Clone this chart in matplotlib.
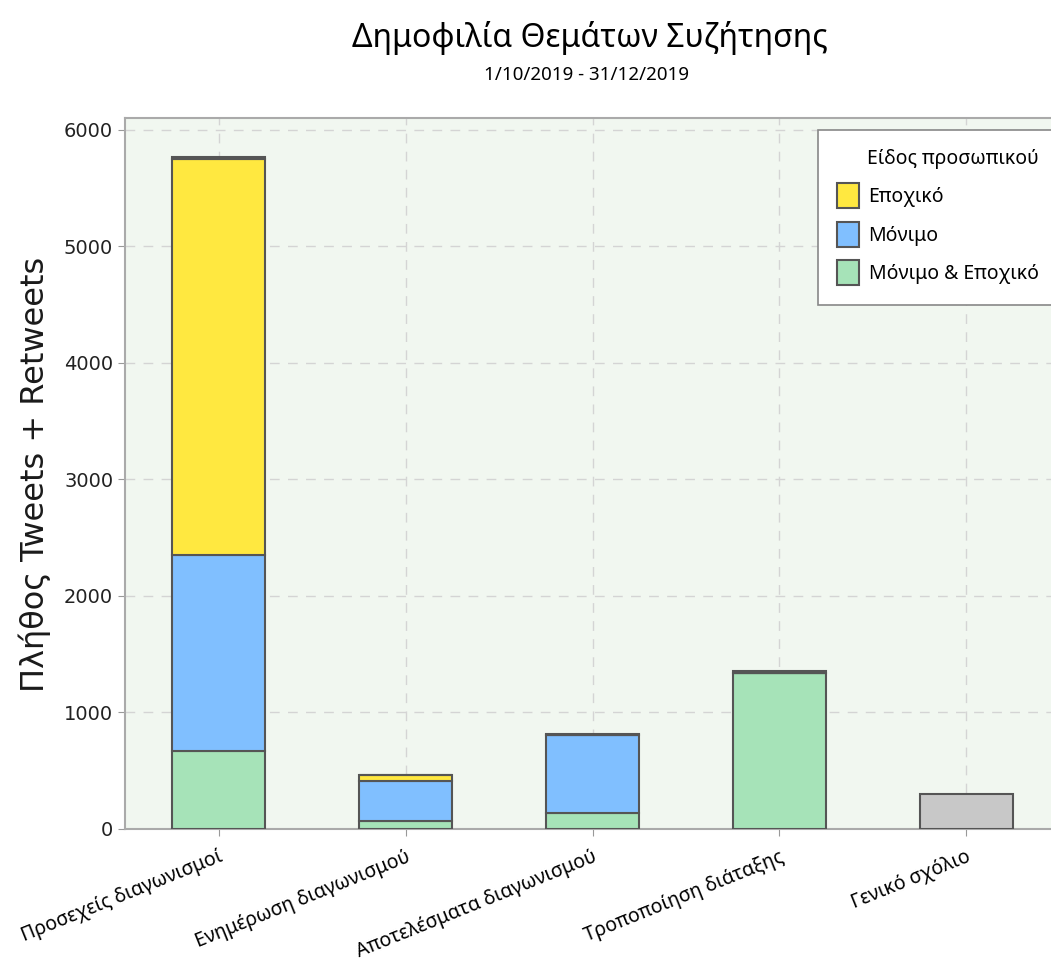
import matplotlib
matplotlib.use("Agg")
import matplotlib.pyplot as plt
import numpy as np

# data
categories = ["Προσεχείς διαγωνισμοί", "Ενημέρωση διαγωνισμού",
              "Αποτελέσματα διαγωνισμού", "Τροποποίηση διάταξης", "Γενικό σχόλιο"]
permanent_seasonal = [670, 70, 135, 1340, 0]
permanent = [1680, 345, 670, 0, 0]
seasonal = [3400, 50, 0, 0, 0]
other = [15, 0, 10, 15, 300]

series_labels = ["Εποχικό", "Μόνιμο", "Μόνιμο & Εποχικό"]
title = "Δημοφιλία Θεμάτων Συζήτησης"
subtitle = "1/10/2019 - 31/12/2019"
ylabel = "Πλήθος Tweets + Retweets"

c_green = "#a6e3b8"
c_blue = "#80bfff"
c_yellow = "#ffe840"
c_gray = "#c8c8c8"
edge = "#555555"

fig = plt.figure(figsize=(10.51, 9.65), dpi=100)
ax = fig.add_axes([125 / 1051, 1 - 829 / 965, (1060 - 125) / 1051, (829 - 118) / 965])
ax.set_facecolor("#f1f7f0")

x = np.arange(len(categories))
w = 0.5
b1 = np.array(permanent_seasonal)
b2 = b1 + np.array(permanent)
b3 = b2 + np.array(seasonal)

h_green = ax.bar(x, permanent_seasonal, w, color=c_green, edgecolor=edge, linewidth=1.5, zorder=3)
h_blue = ax.bar(x, permanent, w, bottom=b1, color=c_blue, edgecolor=edge, linewidth=1.5, zorder=3)
h_yellow = ax.bar(x, seasonal, w, bottom=b2, color=c_yellow, edgecolor=edge, linewidth=1.5, zorder=3)
ax.bar(x, other, w, bottom=b3, color=c_gray, edgecolor=edge, linewidth=1.5, zorder=3)

ax.set_xlim(-0.5, 4.5)
ax.set_ylim(0, 6100)
ax.set_yticks([0, 1000, 2000, 3000, 4000, 5000, 6000])
ax.set_xticks(x)
ax.set_xticklabels(categories, rotation=22, ha="right", rotation_mode="anchor",
                   fontsize=14, family="Noto Sans")
ax.tick_params(axis="y", labelsize=14, colors="#222222", length=5, color="#999999")
ax.tick_params(axis="x", length=5, color="#999999", pad=8)

ax.grid(True, linestyle=(0, (7, 6)), color="#d4d4d4", linewidth=1, zorder=0)
for s in ax.spines.values():
    s.set_color("#aaaaaa")
    s.set_linewidth(1.5)

fig.text(35 / 1051, 1 - 474 / 965, ylabel, rotation=90, ha="center", va="center",
         fontsize=23, color="#1a1a1a")

fig.text(590 / 1051, 1 - 38 / 965, title, ha="center", va="center",
         fontsize=23, family="Noto Sans")
fig.text(587 / 1051, 1 - 75 / 965, subtitle, ha="center", va="center",
         fontsize=13.5, family="Noto Sans")

leg = fig.legend([h_yellow, h_blue, h_green], series_labels, title="Είδος προσωπικού",
                 loc="upper left", bbox_to_anchor=(818 / 1051, 1 - 130 / 965),
                 fancybox=False, framealpha=1,
                 edgecolor="#888888", prop={"family": "Noto Sans", "size": 14},
                 title_fontproperties={"family": "Noto Sans", "size": 14},
                 handlelength=1.1, handleheight=1.6, borderpad=1.0, labelspacing=0.7,
                 handletextpad=0.5, borderaxespad=0)
leg.get_frame().set_linewidth(1.2)
leg._legend_box.align = "right"

fig.savefig("out.png", dpi=100)
